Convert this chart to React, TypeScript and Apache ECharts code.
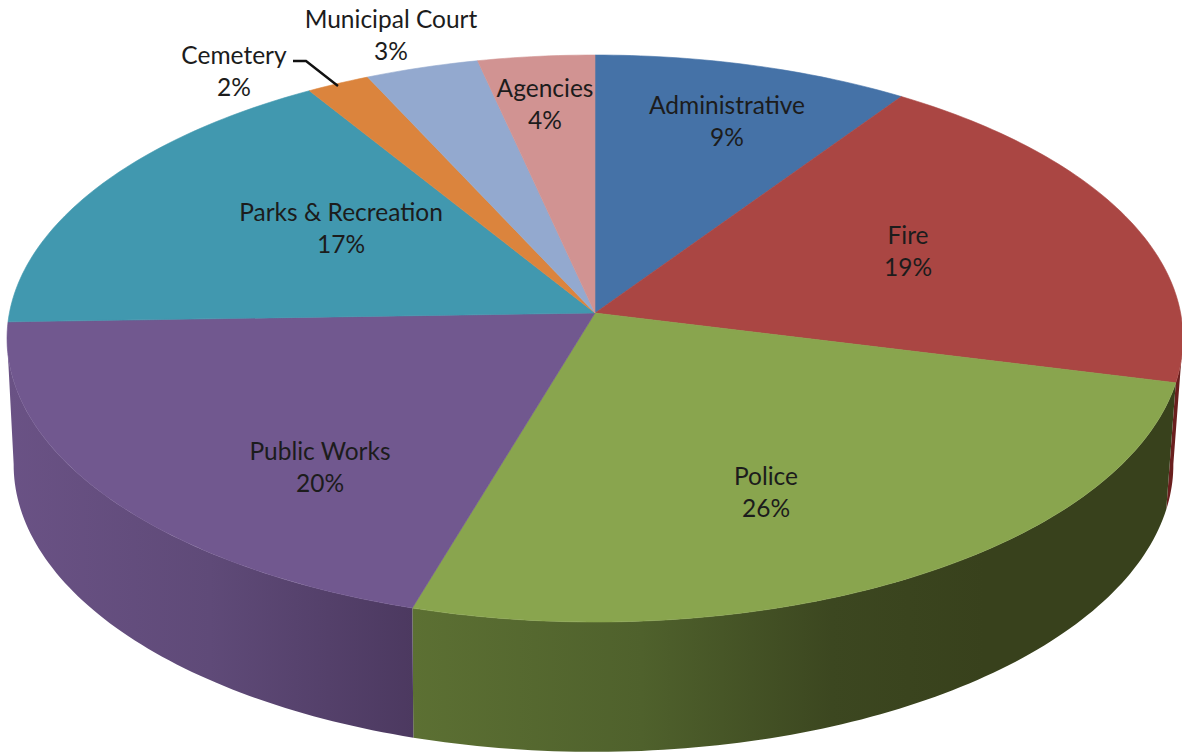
import React, { useEffect, useRef } from "react";
import * as echarts from "echarts";

const categories = ["Administrative", "Fire", "Police", "Public Works", "Parks & Recreation", "Cemetery", "Municipal Court", "Agencies"];
// Printed percentages
const percentLabels = [9, 19, 26, 20, 17, 2, 3, 4];
// Unrounded shares as read from the slice boundaries
const shares = [9.5, 19.4, 25.7, 19.9, 16.7, 1.9, 3.4, 3.5];
const topColors = ["#4572A7", "#AA4643", "#89A54E", "#71588F", "#4198AF", "#DB843D", "#93A9CF", "#D19392"];
const labelCentres = [[727, 120], [908, 250], [766, 491], [320, 466], [341, 227], [234, 70], [391, 34], [545, 103]];

const wallFills: Record<number, any> = {
  0: "#2f4a6e",
  1: "#6a1f1e",
  2: { type: "linear", x: 0, y: 0, x2: 1, y2: 0, colorStops: [
    { offset: 0, color: "#5c7033" }, { offset: 0.3, color: "#4f612c" }, { offset: 0.55, color: "#3c4720" }, { offset: 0.75, color: "#38411c" }, { offset: 1, color: "#38411c" } ] },
  3: { type: "linear", x: 0, y: 0, x2: 1, y2: 0, colorStops: [
    { offset: 0, color: "#6a5285" }, { offset: 0.5, color: "#5f4a78" }, { offset: 1, color: "#4c3960" } ] },
};

const total = shares.reduce((a, b) => a + b, 0);
const starts: number[] = [];
shares.reduce((acc, s, i) => { starts[i] = acc; return acc + s; }, 0);

const K = 0.09;
const TOP = { cx: 595, cy: 313, a: 585.6, b: 281.2 };
const BOTTOM = { cx: 593.5, cy: 439, a: 577.5, b: 284.7 };

function project(deg: number, ring: typeof TOP): number[] {
  const t = (deg * Math.PI) / 180;
  const u = Math.sin(t), v = Math.cos(t);
  const d = 1 + K * v;
  return [ring.cx + (ring.a * u) / d, ring.cy - (ring.b * v) / d];
}

function arc(from: number, to: number, ring: typeof TOP): number[][] {
  const n = Math.max(2, Math.ceil(Math.abs(to - from)) + 1);
  const pts: number[][] = [];
  for (let i = 0; i < n; i++) pts.push(project(from + ((to - from) * i) / (n - 1), ring));
  return pts;
}

const angle = (pct: number) => (pct / total) * 360;
const FONT = "Lato, 'Open Sans', sans-serif";

export default function App() {
  const ref = useRef<HTMLDivElement>(null);
  useEffect(() => {
    document.body.style.margin = "0";
    const chart = echarts.init(ref.current!, undefined, { renderer: "svg" });
    const data = shares.map((s, i) => [i, s]);
    chart.setOption({
      animation: false,
      backgroundColor: "#ffffff",
      series: [
        {
          type: "custom", coordinateSystem: "none", z: 1, silent: true, data,
          renderItem: (_p: any, api: any) => {
            const i = api.value(0);
            const a0 = Math.max(angle(starts[i]), 95);
            const a1 = Math.min(angle(starts[i]) + angle(api.value(1)), 265);
            if (a1 <= a0) return null;
            const fill = wallFills[i];
            return {
              type: "polygon",
              shape: { points: [...arc(a0, a1, TOP), ...arc(a1, a0, BOTTOM)] },
              style: { fill, stroke: "none" },
            };
          },
        },
        {
          type: "custom", coordinateSystem: "none", z: 2, silent: true, data,
          renderItem: (_p: any, api: any) => {
            const i = api.value(0);
            const a0 = angle(starts[i]);
            const a1 = a0 + angle(api.value(1));
            return {
              type: "polygon",
              shape: { points: [[TOP.cx, TOP.cy], ...arc(a0, a1, TOP)] },
              style: { fill: topColors[i], stroke: topColors[i], lineWidth: 0.6 },
            };
          },
        },
        {
          type: "custom", coordinateSystem: "none", z: 3, silent: true, data,
          renderItem: (_p: any, api: any) => {
            const i = api.value(0);
            return {
              type: "text",
              style: {
                x: labelCentres[i][0], y: labelCentres[i][1],
                text: `${categories[i]}\n${percentLabels[i]}%`,
                fill: "#1c1c1c", fontFamily: FONT, fontSize: 24.5, lineHeight: 32,
                align: "center", verticalAlign: "middle",
              },
            };
          },
        },
      ],
      graphic: [
        {
          type: "polyline", z: 10, silent: true,
          shape: { points: [[293, 61], [306, 61], [338, 86]] },
          style: { stroke: "#111111", lineWidth: 2.4, fill: "none" },
        },
      ],
    });
    return () => chart.dispose();
  }, []);
  return <div ref={ref} style={{ position: "absolute", left: 0, top: 0, width: 1182, height: 753 }} />;
}
